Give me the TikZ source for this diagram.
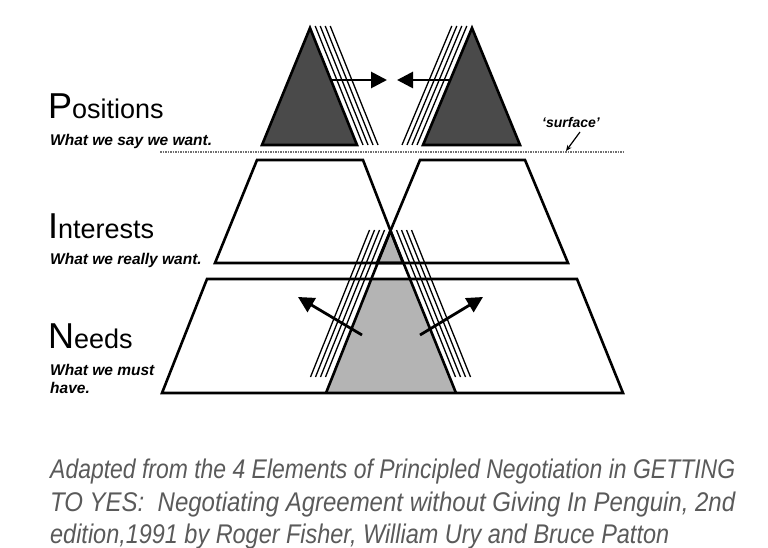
\documentclass[tikz,border=0pt]{standalone}
\usepackage{fontspec}
\setmainfont{Liberation Sans}
\usepackage{graphicx}
\usetikzlibrary{arrows.meta,calc}
\definecolor{DarkFill}   {HTML}{4A4A4A}
\definecolor{LightFill}  {HTML}{B4B4B4}
\definecolor{CaptionGray}{HTML}{5A5A5A}
\definecolor{DotGray}    {HTML}{707070}
\tikzset{
  outline/.style={draw=black,line width=2.6pt,line join=miter},
  stripe/.style={draw=black,line width=1.3pt},
  push/.style={-{Triangle[length=16pt,width=16pt]},line width=2.8pt},
  surfline/.style={draw=DotGray,line width=2.2pt,dash pattern=on 1.5pt off 1pt},
  layer/.style={font=\fontsize{27}{27}\selectfont,anchor=base west,inner sep=0pt},
  hint/.style={font=\fontsize{15.5}{15.5}\selectfont\bfseries\itshape,anchor=base west,inner sep=0pt},
  caption/.style={font=\fontsize{27}{27}\selectfont\itshape\color{CaptionGray},anchor=base west,inner sep=0pt},
}
\newcommand{\initial}[1]{{\fontsize{36}{36}\selectfont #1}}
\newcommand{\capline}[2]{\resizebox{#1pt}{\height}{#2}}

\begin{document}
\begin{tikzpicture}[x=1pt,y=-1pt]
  \useasboundingbox (0,0) rectangle (768,548);

  % positions: two dark peaks
  \coordinate (pla) at (310,28);  \coordinate (plb) at (262,145); \coordinate (plc) at (357,145);
  \coordinate (pra) at (472,28);  \coordinate (prb) at (423,145); \coordinate (prc) at (520,145);
  \fill[DarkFill] (pla) -- (plb) -- (plc) -- cycle;
  \fill[DarkFill] (pra) -- (prb) -- (prc) -- cycle;
  \draw[outline] (pla) -- (plb) -- (plc) -- cycle;
  \draw[outline] (pra) -- (prb) -- (prc) -- cycle;
  \foreach \d in {6,11,16,21}{
    \draw[stripe] ($(309.2,26)+(\d,0)$) -- ($(plc)+(\d,0)$);
    \draw[stripe] ($(472.8,26)-(\d,0)$) -- ($(prb)-(\d,0)$);
  }
  \coordinate (pl) at (331,80);  \coordinate (plt) at (387,80);
  \coordinate (pr) at (451,80);  \coordinate (prt) at (397,80);
  \draw[push] (pl) -- (plt);
  \draw[push] (pr) -- (prt);

  % surface line
  \coordinate (sl) at (160,152); \coordinate (sr) at (623,152);
  \draw[surfline] (sl) -- (sr);
  \node[font=\fontsize{14}{14}\selectfont\bfseries\itshape] (surf) at (571,122) {`surface'};
  \coordinate (sfa) at (580,132); \coordinate (sfb) at (566,151);
  \draw[-{Stealth[length=6pt,width=5pt]},line width=1.2pt] (sfa) -- (sfb);

  % shared needs: grey peak behind interests and needs
  \coordinate (na) at (390.5,230.8); \coordinate (nb) at (326,393); \coordinate (nc) at (456,393);
  \fill[LightFill] (na) -- (nb) -- (nc) -- cycle;
  \fill[white] (300,264) rectangle (480,278);

  % interests
  \draw[outline] (257,160) -- (363,160) -- (403,263) -- (215,263) -- cycle;
  \draw[outline] (420,160) -- (525,160) -- (568,263) -- (377,263) -- cycle;
  % needs
  \draw[outline] (207,279) -- (577,279) -- (623,393) -- (162,393) -- cycle;
  \draw[outline] (nb) -- (na) -- (nc);

  \foreach \d in {6,11,16,21}{
    \draw[stripe] ($(na)+(-\d,-0.8)$) -- ($(388.5+0,377)+(-\d-57,0)$);
    \draw[stripe] ($(na)+(\d,-0.8)$) -- ($(390.5,377)+(\d+59,0)$);
  }
  \coordinate (nl) at (362,335); \coordinate (nlt) at (298,297);
  \coordinate (nr) at (420,335); \coordinate (nrt) at (483,297);
  \draw[push] (nl) -- (nlt);
  \draw[push] (nr) -- (nrt);

  % labels
  \node[layer] (pos) at (48,119) {\initial{P}ositions};
  \node[hint]  (posh) at (50,146) {What we say we want.};
  \node[layer] (int) at (48,238) {\initial{I}nterests};
  \node[hint]  (inth) at (50,264) {What we really want.};
  \node[layer] (nee) at (48,348) {\initial{N}eeds};
  \node[hint]  (neeh) at (50,375) {What we must};
  \node[hint]  (neeh2) at (50,393) {have.};

  % source
  \node[caption] (c1) at (50,478) {\capline{685}{Adapted from the 4 Elements of Principled Negotiation in GETTING}};
  \node[caption] (c2) at (50,511) {\capline{685}{TO YES:\ \ Negotiating Agreement without Giving In Penguin, 2nd}};
  \node[caption] (c3) at (50,543) {\capline{619}{edition,1991 by Roger Fisher, William Ury and Bruce Patton}};
\end{tikzpicture}
\end{document}
